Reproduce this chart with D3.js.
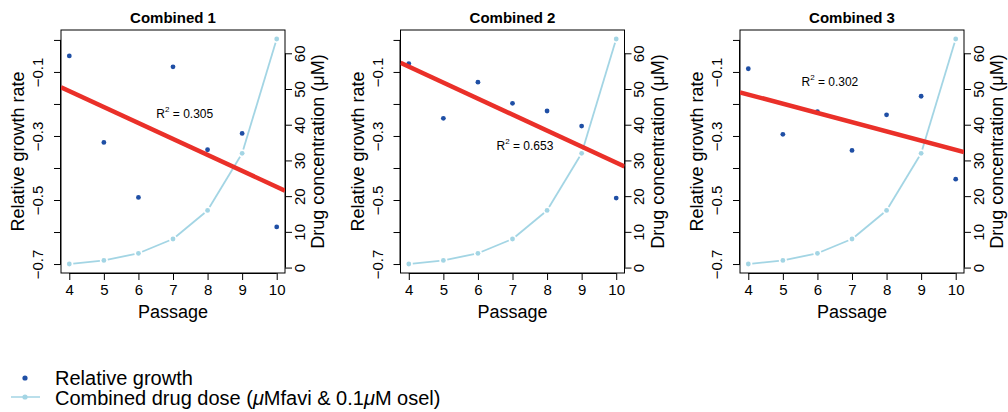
<!DOCTYPE html>
<html>
<head>
<meta charset="utf-8">
<script src="https://cdn.jsdelivr.net/npm/d3@7"></script>
<style>
  body { margin: 0; background: #fff; }
  text { font-family: "Liberation Sans", Arial, sans-serif; fill: #000; }
</style>
</head>
<body>
<div id="chart"></div>
<script>
const passages = [4, 5, 6, 7, 8, 9, 10];
const drugDose = [1, 2, 4, 8, 16, 32, 64];
const titles = ['Combined 1', 'Combined 2', 'Combined 3'];
const growth1 = [-0.050, -0.320, -0.492, -0.084, -0.343, -0.292, -0.584];
const growth2 = [-0.074, -0.245, -0.132, -0.198, -0.222, -0.269, -0.494];
const growth3 = [-0.090, -0.295, -0.224, -0.345, -0.234, -0.176, -0.435];
const rSquared = ['0.305', '0.653', '0.302'];
const growthTicks = [0, -0.1, -0.2, -0.3, -0.4, -0.5, -0.6, -0.7];
const growthLabels = [-0.1, -0.3, -0.5, -0.7];
const doseTicks = [0, 10, 20, 30, 40, 50, 60];
const legendLabels = ['Relative growth', 'Combined drug dose'];

const series = [growth1, growth2, growth3];
// where the R2 text sits, in data units (passage, growth)
const r2Pos = [[7.34, -0.235], [7.36, -0.334], [6.36, -0.134]];

const width = 1008, height = 412;
const panelX = [0, 339.5, 679];
const box = {left: 61, right: 285, top: 30, bottom: 273};
const darkBlue = '#1f4fa5', lightBlue = '#a3d5e4', red = '#ea3029';

const svg = d3.select('#chart').append('svg')
  .attr('width', width)
  .attr('height', height);

const x = d3.scaleLinear().domain([3.76, 10.24]).range([box.left, box.right]);
const y = d3.scaleLinear().domain([-0.728, 0.031]).range([box.bottom, box.top]);
const y2 = d3.scaleLinear().domain([-1.52, 66.52]).range([box.bottom, box.top]);

// simple least squares fit
function fit(xs, ys) {
  const mx = d3.mean(xs), my = d3.mean(ys);
  let sxy = 0, sxx = 0;
  xs.forEach((v, i) => { sxy += (v - mx) * (ys[i] - my); sxx += (v - mx) * (v - mx); });
  const b = sxy / sxx;
  return {a: my - b * mx, b: b};
}

series.forEach((vals, p) => {
  const g = svg.append('g').attr('transform', `translate(${panelX[p]},0)`);

  g.append('defs').append('clipPath').attr('id', 'clip' + p)
    .append('rect')
    .attr('x', box.left).attr('y', box.top)
    .attr('width', box.right - box.left).attr('height', box.bottom - box.top);

  // title
  g.append('text')
    .attr('x', (box.left + box.right) / 2).attr('y', 23)
    .attr('text-anchor', 'middle')
    .style('font-weight', 'bold').style('font-size', '15px')
    .text(titles[p]);

  // x axis
  const xa = g.append('g').attr('transform', `translate(0,${box.bottom})`)
    .call(d3.axisBottom(x).tickValues(passages).tickSize(7).tickPadding(4).tickFormat(d3.format('d')));
  xa.select('.domain').attr('d', `M${x(4)},0.5H${x(10)}`);
  xa.selectAll('text').style('font-size', '15px');

  // left axis
  const ya = g.append('g').attr('transform', `translate(${box.left},0)`)
    .call(d3.axisLeft(y).tickValues(growthTicks).tickSize(7)
      .tickFormat(d => growthLabels.some(v => Math.abs(v - d) < 1e-9) ? d3.format('.1f')(d).replace('-', '\u2212') : ''));
  ya.select('.domain').attr('d', `M-0.5,${y(-0.7)}V${y(0)}`);
  ya.selectAll('.tick text')
    .attr('x', 0).attr('dy', null)
    .attr('transform', 'translate(-18,0) rotate(-90)')
    .attr('text-anchor', 'middle')
    .style('font-size', '15px');

  // right axis
  const ra = g.append('g').attr('transform', `translate(${box.right},0)`)
    .call(d3.axisRight(y2).tickValues(doseTicks).tickSize(7));
  ra.select('.domain').attr('d', `M0.5,${y2(0)}V${y2(60)}`);
  ra.selectAll('.tick text')
    .attr('x', 0).attr('dy', null)
    .attr('transform', 'translate(16,0) rotate(-90)')
    .attr('text-anchor', 'middle')
    .attr('dominant-baseline', 'middle')
    .style('font-size', '15px');

  g.selectAll('.domain, .tick line').attr('stroke', '#000');

  // box
  g.append('rect')
    .attr('x', box.left).attr('y', box.top)
    .attr('width', box.right - box.left).attr('height', box.bottom - box.top)
    .attr('fill', 'none').attr('stroke', '#000');

  // axis titles
  g.append('text')
    .attr('transform', `translate(24,${(box.top + box.bottom) / 2}) rotate(-90)`)
    .attr('text-anchor', 'middle').style('font-size', '18px')
    .text('Relative growth rate');
  g.append('text')
    .attr('transform', `translate(324,${(box.top + box.bottom) / 2}) rotate(-90)`)
    .attr('text-anchor', 'middle').style('font-size', '18px')
    .text('Drug concentration (\u03BCM)');
  g.append('text')
    .attr('x', (box.left + box.right) / 2).attr('y', 318)
    .attr('text-anchor', 'middle').style('font-size', '18px')
    .text('Passage');

  // drug dose, line with gaps at points
  const pts = passages.map((d, i) => [x(d), y2(drugDose[i])]);
  const segs = d3.pairs(pts).map(([a, b]) => {
    const dx = b[0] - a[0], dy = b[1] - a[1], len = Math.hypot(dx, dy), gap = 4;
    return [a[0] + dx * gap / len, a[1] + dy * gap / len, b[0] - dx * gap / len, b[1] - dy * gap / len];
  });
  g.selectAll('line.dose').data(segs).enter().append('line')
    .attr('class', 'dose')
    .attr('x1', d => d[0]).attr('y1', d => d[1])
    .attr('x2', d => d[2]).attr('y2', d => d[3])
    .attr('stroke', lightBlue).attr('stroke-width', 1.8);
  g.selectAll('circle.dose').data(pts).enter().append('circle')
    .attr('class', 'dose')
    .attr('cx', d => d[0]).attr('cy', d => d[1])
    .attr('r', 2.4).attr('fill', lightBlue);

  // growth points
  g.selectAll('circle.growth').data(vals).enter().append('circle')
    .attr('class', 'growth')
    .attr('cx', (d, i) => x(passages[i])).attr('cy', d => y(d))
    .attr('r', 2.4).attr('fill', darkBlue);

  // regression line
  const f = fit(passages, vals);
  const ends = x.domain();
  g.append('line')
    .attr('clip-path', `url(#clip${p})`)
    .attr('x1', x(ends[0])).attr('y1', y(f.a + f.b * ends[0]))
    .attr('x2', x(ends[1])).attr('y2', y(f.a + f.b * ends[1]))
    .attr('stroke', red).attr('stroke-width', 4.5);

  // R2 label
  const t = g.append('text')
    .attr('x', x(r2Pos[p][0])).attr('y', y(r2Pos[p][1]))
    .attr('text-anchor', 'middle').attr('dominant-baseline', 'middle')
    .style('font-size', '12px');
  t.append('tspan').text('R');
  t.append('tspan').attr('dy', -5).style('font-size', '8px').text('2');
  t.append('tspan').attr('dy', 5).text(' = ' + rSquared[p]);
});

// legend
const lg = svg.append('g');
lg.append('circle').attr('cx', 25).attr('cy', 378).attr('r', 2.6).attr('fill', darkBlue);
lg.append('text').attr('x', 55).attr('y', 385).style('font-size', '20px').text(legendLabels[0]);
lg.append('line').attr('x1', 11).attr('x2', 40).attr('y1', 397).attr('y2', 397)
  .attr('stroke', lightBlue).attr('stroke-width', 1.5);
lg.append('circle').attr('cx', 25).attr('cy', 397).attr('r', 2.6).attr('fill', lightBlue);
const lt = lg.append('text').attr('x', 55).attr('y', 405).style('font-size', '20px');
lt.append('tspan').text(legendLabels[1] + ' (');
lt.append('tspan').style('font-style', 'italic').text('\u03BC');
lt.append('tspan').text('Mfavi & 0.1');
lt.append('tspan').style('font-style', 'italic').text('\u03BC');
lt.append('tspan').text('M osel)');
</script>
</body>
</html>
